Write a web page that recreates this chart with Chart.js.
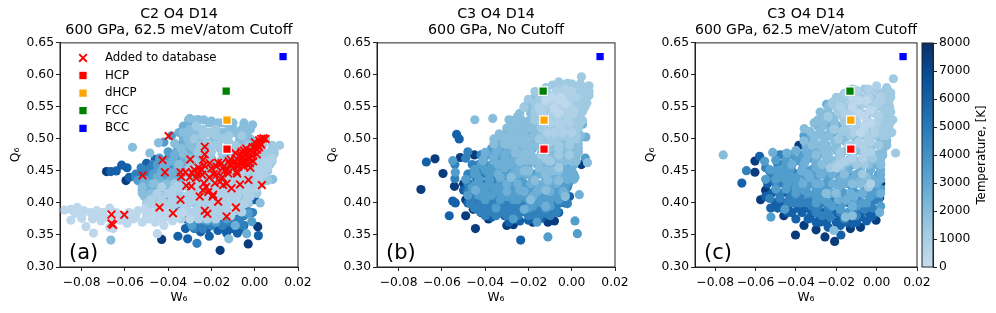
<!DOCTYPE html>
<html>
<head>
<meta charset="utf-8">
<title>Q6 vs W6</title>
<script src="https://cdn.jsdelivr.net/npm/chart.js@4/dist/chart.umd.min.js"></script>
<style>
  html, body { margin: 0; background: #fff; overflow: hidden; }
  #page { position: relative; width: 996px; height: 313px; }
  #page canvas { position: absolute; top: 0; }
</style>
</head>
<body>
<div id="page">
  <canvas id="panelA" style="left:0" width="320" height="313"></canvas>
  <canvas id="panelB" style="left:317px" width="320" height="313"></canvas>
  <canvas id="panelC" style="left:635px" width="300" height="313"></canvas>
  <canvas id="colorbar" style="left:915px" width="81" height="313"></canvas>
</div>
<script>
// ---------- axes ----------
var xTicks = [-0.08, -0.06, -0.04, -0.02, 0, 0.02];
var yTicks = [0.30, 0.35, 0.40, 0.45, 0.50, 0.55, 0.60, 0.65];
var cbTicks = [0, 1000, 2000, 3000, 4000, 5000, 6000, 7000, 8000];

// reference structures, same in every panel
var hcp = [[-0.0128, 0.484]];
var dhcp = [[-0.0128, 0.5295]];
var fcc = [[-0.0132, 0.5746]];
var bcc = [[0.0131, 0.6287]];

// ---------- panel (a), points grouped by temperature ----------
var aT7500 = [[-.043,.343],[-.016,.326],[-.003,.336],[.0014,.363],[-.0595,.435],[-.0685,.449]];
var aT6000 = [[-.0355,.348],[-.031,.344],[-.021,.348],[-.013,.353],[-.008,.353],[.0017,.349],[-.0665,.449],[-.064,.45],[-.0615,.459],[-.059,.455],[-.052,.447],[-.05,.462],[-.046,.468],[-.044,.457],[-.025,.355],[-.017,.357],[-.01,.36],[-.005,.395],[-.003,.4],[0,.405],[-.008,.39],[-.04,.41],[-.036,.39],[-.027,.37],
  [-.028,.365],[-.022,.365],[-.016,.365],[-.012,.365],[-.005,.365],[-.032,.375],[-.026,.375],[-.02,.375],[-.014,.375],[-.008,.375],[-.004,.39],[-.045,.405],[-.042,.405],[-.058,.44],[-.032,.36],[-.027,.36],[-.022,.36],[-.016,.36],[-.011,.36],[-.006,.36]];
var aT4700 = [[-.0267,.337],[-.0055,.365],[-.028,.36],[-.024,.36],[-.02,.365],[-.015,.365],[-.055,.44],[-.05,.44],[-.048,.435],[-.047,.45],[-.043,.44],[-.04,.465],[-.038,.46],[-.036,.475],[-.034,.49],[-.04,.42],[-.011,.37],[-.007,.375],[-.046,.425],[-.0525,.455],[-.042,.41],
  [-.03,.37],[-.025,.37],[-.018,.37],[-.013,.37],[-.008,.37],[-.028,.38],[-.02,.38],[-.012,.38],[-.005,.38],[-.052,.43],[-.044,.43],[-.04,.43],[-.05,.45],[-.042,.45],[-.047,.46],[-.036,.46],[-.055,.445],[-.05,.445],[-.045,.445],[-.048,.455],[-.043,.455],[-.001,.385],[-.003,.385]];
var aT3500 = [[-.003,.384],[-.0014,.371],[-.045,.445],[-.04,.445],[-.037,.45],[-.034,.47],[-.032,.48],[-.028,.49],[-.048,.43],[-.044,.425],[-.038,.43],[-.042,.495],[-.0385,.505],[-.032,.46],[-.029,.365],[-.018,.37],[-.005,.41],[-.037,.415],[-.022,.372],[-.013,.375],
  [-.054,.435],[-.049,.435],[-.042,.435],[-.036,.445],[-.047,.445],[-.045,.46],[-.044,.47],[-.04,.47],[-.04,.48],[-.036,.48],[-.036,.49],[-.045,.45],[-.04,.45]];
var aT2600 = [[-.0037,.352],[-.047,.415],[-.05,.42],[-.042,.46],[-.037,.475],[-.033,.5],[-.03,.505],[-.028,.52],[-.026,.53],[-.0305,.53],[-.035,.48],[-.045,.44],[-.04,.43],[-.035,.44],[-.031,.445],[-.028,.47],[-.025,.51],[-.009,.365],[-.024,.375],[-.019,.375],
  [-.052,.42],[-.044,.42],[-.047,.43],[-.036,.43],[-.043,.45],[-.036,.45],[-.03,.45],[-.038,.465],[-.033,.465],[-.03,.465],[-.036,.48],[-.03,.48],[-.033,.49],[-.027,.49],[-.035,.51],[-.033,.52],[-.03,.52],
  [-.041,.46],[-.036,.46],[-.03,.46],[-.039,.447],[-.033,.447],[-.051,.435],[-.044,.435],[-.039,.435],[-.034,.435],[-.049,.423],[-.045,.423],[-.04,.423]];
var aT1900 = [[-.0565,.487],[-.0445,.494],[-.0485,.478],[-.03,.532],[-.027,.53],[-.0235,.53],[-.02,.528],[-.017,.525],[-.013,.51],[-.01,.515],[-.004,.515],[-.001,.522],[-.0035,.505],[0,.495],[.002,.485],[-.006,.5],[.0035,.49],[.0085,.475],[.0083,.437],[.0025,.4],[-.033,.51],[-.03,.49],[-.027,.475],[-.024,.47],[-.035,.46],[-.032,.45],[-.036,.43],[-.012,.344],[-.0665,.342],[-.047,.43],[-.052,.425],[-.049,.41],
  [-.032,.44],[-.027,.44],[-.022,.44],[-.028,.44],[-.03,.455],[-.024,.455],[-.018,.455],[-.012,.455],[-.006,.455],[-.03,.47],[-.02,.47],[-.014,.47],[-.008,.47],[-.002,.47],[-.034,.485],[-.028,.485],[-.022,.485],[-.016,.485],[-.01,.485],[-.004,.485],[-.031,.5],[-.025,.5],[-.019,.5],[-.013,.5],[-.007,.5],[-.002,.5],[-.03,.515],[-.024,.515],[-.018,.515],[-.012,.515],[-.006,.515],[-.002,.515],[-.027,.525],[-.021,.525],[-.015,.525],[-.01,.525],[-.005,.525],[-.046,.43],[-.041,.43],[-.052,.415],[-.048,.415],
  [-.031,.51],[-.027,.51],[-.021,.51],[-.015,.51],[-.009,.51],[-.004,.51],[-.037,.493],[-.03,.493],[-.024,.493],[-.018,.493],[-.012,.493],[-.006,.493],[-.001,.493],[-.033,.477],[-.027,.477],[-.021,.477],[-.015,.477],[-.009,.477],[-.003,.477],[-.025,.46],[-.019,.46],[-.013,.46],[-.007,.46],[-.027,.447],[-.021,.447],[-.051,.41],[-.047,.41],[-.043,.41]];
var aT1300 = [[-.027,.52],[-.024,.515],[-.021,.51],[-.018,.515],[-.015,.5],[-.012,.495],[-.022,.495],[-.019,.49],[-.025,.49],[-.015,.48],[-.01,.48],[-.006,.485],[-.003,.49],[0,.48],[.004,.475],[.007,.48],[.0115,.49],[.006,.465],[.003,.455],[0,.445],[-.002,.44],[-.028,.5],[-.026,.46],[-.02,.46],[-.017,.45],[-.03,.455],[-.04,.4],[-.043,.41],[-.046,.41],[-.05,.4],[-.034,.41],[-.024,.445],[-.021,.47],[-.013,.465],[-.008,.47],[-.011,.452],
  [-.024,.45],[-.018,.45],[-.012,.45],[-.006,.45],[.002,.45],[.006,.45],[-.028,.465],[-.022,.465],[-.016,.465],[-.01,.465],[-.004,.465],[.002,.465],[.008,.465],[-.026,.48],[-.02,.48],[-.012,.48],[-.004,.48],[.002,.48],[.009,.48],[-.017,.49],[-.009,.49],[.003,.49],[.008,.49],[-.024,.505],[-.018,.505],[-.012,.505],[-.006,.505],[-.03,.44],[-.024,.44],[-.018,.44],[-.012,.44],[-.006,.44],[0,.44],[.005,.44],[-.037,.43],[-.03,.43],[-.025,.43],[-.019,.43],[-.013,.43],[-.007,.43],[-.001,.43],[.003,.43],[-.04,.415],[-.035,.415],[-.028,.415],[-.022,.415],[-.016,.415],[-.009,.415],[-.003,.415],[.001,.415],[-.045,.4],[-.034,.4],[-.028,.4],[-.022,.4],[-.015,.4],[-.008,.4],[-.003,.4],
  [0,.477],[.004,.477],[.009,.477],[-.002,.46],[.003,.46],[.007,.46],[-.015,.447],[-.009,.447],[-.003,.447],[.003,.447],[-.028,.435],[-.022,.435],[-.016,.435],[-.01,.435],[-.004,.435],[.002,.435],[.006,.435]];
var aT800 = [[-.05,.395],[-.045,.395],[-.04,.395],[-.036,.4],[-.032,.395],[-.03,.41],[-.026,.41],[-.022,.405],[-.02,.42],[-.016,.425],[-.012,.43],[-.008,.44],[-.004,.45],[0,.455],[.004,.465],[.008,.47],[.003,.495],[.005,.5],[-.012,.42],[-.018,.4],[-.026,.39],[-.03,.385],[-.005,.435],[-.001,.43],[-.016,.41],[-.007,.42],[-.034,.425],[-.038,.42],[-.045,.38],[-.02,.385],[-.013,.395],[-.018,.38],[-.01,.405],
  [-.048,.405],[-.043,.405],[-.038,.405],[-.028,.405],[-.024,.405],[-.014,.405],[-.009,.405],[-.004,.405],[-.045,.415],[-.04,.415],[-.03,.415],[-.024,.415],[-.018,.415],[-.012,.415],[-.004,.415],[-.043,.425],[-.036,.425],[-.031,.425],[-.026,.425],[-.02,.425],[-.014,.425],[-.008,.425],[-.002,.425],[-.031,.435],[-.025,.435],[-.018,.435],[-.012,.435],[-.004,.435],[.002,.435],[-.02,.445],[-.012,.445],[-.005,.445],[.001,.445],[.004,.445],[-.01,.455],[-.004,.455],[.003,.455],[.006,.455],[-.002,.465],[.002,.465],[.007,.465],[-.024,.39],[-.018,.39],[-.013,.39],[-.008,.39],[-.028,.38],[-.024,.38],[-.015,.38],[-.011,.38],[-.034,.375],[-.026,.375],[-.022,.375],[-.018,.375],
  [-.035,.423],[-.029,.423],[-.023,.423],[-.017,.423],[-.011,.423],[-.005,.423],[.001,.423],[-.038,.41],[-.032,.41],[-.026,.41],[-.02,.41],[-.014,.41],[-.008,.41],[-.002,.41],[-.048,.398],[-.042,.398],[-.037,.398],[-.031,.398],[-.025,.398],[-.02,.398],[-.014,.398],[-.009,.398],[-.005,.398],[-.042,.386],[-.038,.386],[-.034,.386],[-.028,.386],[-.022,.386],[-.016,.386],[-.012,.386],[-.006,.386]];
var aT300 = [[-.088,.389],[-.085,.39],[-.082,.393],[-.079,.388],[-.076,.385],[-.073,.388],[-.07,.385],[-.067,.392],[-.064,.385],[-.061,.38],[-.058,.385],[-.055,.38],[-.085,.373],[-.08,.376],[-.078,.363],[-.075,.375],[-.0745,.353],[-.071,.372],[-.067,.362],[-.0655,.36],[-.062,.373],[-.059,.368],[-.056,.375],[-.052,.37],[-.049,.375],[-.046,.37],[-.0425,.375],[-.045,.352],[-.048,.385],[-.044,.385],[-.04,.385],[-.036,.38],[-.051,.39],[-.03,.375],[-.033,.385],[-.05,.38],
  [-.083,.384],[-.08,.382],[-.074,.38],[-.07,.378],[-.067,.376],[-.064,.375],[-.058,.377],[-.054,.388],[-.042,.365],[-.038,.372],[-.05,.378],[-.045,.378],[-.04,.378],[-.036,.378]];
var added = [[-.0398,.5045],[-.0426,.467],[-.0415,.448],[-.0518,.443],[-.0298,.468],[-.0231,.488],[-.0231,.476],[-.0343,.448],[-.034,.441],[-.032,.448],[-.029,.4475],[-.0316,.427],[-.0293,.426],[-.0254,.449],[-.027,.439],[-.0243,.444],[-.0234,.459],[-.0239,.467],[-.0208,.462],[-.02,.454],[-.0177,.457],[-.0153,.462],[-.0177,.444],[-.0161,.433],[-.0184,.431],[-.0146,.428],[-.0122,.446],[-.0107,.423],[-.0068,.429],[-.0029,.436],[.0033,.428],[-.0081,.446],[-.0099,.462],[-.0076,.457],[-.0343,.405],[-.044,.393],[-.0378,.384],[-.0234,.431],[-.0239,.42],[-.0254,.41],[-.0215,.417],[-.0192,.413],[-.0169,.402],[-.0231,.388],[-.0219,.383],[-.013,.379],[-.0087,.393],[-.0662,.382],[-.0662,.368],[-.0655,.366],[-.0603,.3815],[.004,.501],[.0025,.494],[0,.488],[-.001,.48],[-.004,.475],[-.006,.47],[-.0007,.465],[-.002,.455],[-.0045,.463],[-.0076,.46],[-.0084,.449],[-.0115,.46],[-.0146,.455],[.005,.5],[.003,.5],[.0015,.49],[-.001,.487],[-.002,.47],[-.003,.478],[-.005,.482],[-.006,.48],[-.007,.465],[-.004,.468],[-.009,.465],[-.0022,.462],[-.0125,.452],[.001,.483],[-.0265,.445],[-.0245,.452],[-.0195,.41],[-.0225,.425],[-.015,.44],[-.013,.43],[-.0108,.46],[-.0062,.475],[-.003,.459],
  [-.008,.468],[-.006,.463],[-.005,.457],[-.003,.47],[-.001,.473],[.001,.476],[.002,.487],[.003,.491],[-.002,.482],[-.004,.485],[-.007,.473],[-.01,.455],[-.012,.465],[-.014,.45],[-.017,.463],[-.019,.445],[-.028,.452],[-.03,.44],[-.026,.455],[-.021,.44],[0,.495],[.002,.498],[-.009,.478],[-.011,.468]];

// ---------- panel (b) ----------
var bT7500 = [[-.0697,.421],[-.0632,.469],[-.0595,.446],[-.0445,.36],[-.049,.38],[-.0542,.426],[-.0515,.471],[-.045,.475],[-.05,.43],[-.047,.41],[-.0455,.39],[-.042,.385],[-.0385,.375],[-.03,.365],[-.027,.366],[-.018,.37],[-.011,.37],[-.008,.372],[.0045,.46],[-.049,.405],[-.044,.44]];
var bT6000 = [[-.0672,.464],[-.0532,.507],[-.052,.5],[-.0566,.38],[-.055,.403],[-.0538,.4],[-.0236,.342],[-.05,.42],[-.048,.4],[-.046,.425],[-.043,.403],[-.041,.39],[-.037,.378],[-.034,.385],[-.029,.37],[-.024,.372],[-.02,.373],[-.014,.376],[-.01,.383],[-.006,.385],[-.003,.4],[-.047,.445],[-.043,.45],[-.001,.41],[-.036,.395],[-.031,.38],[-.016,.385]];
var bT4700 = [[-.047,.43],[-.044,.415],[-.041,.43],[-.04,.405],[-.038,.42],[-.035,.405],[-.034,.39],[-.037,.44],[-.043,.455],[-.046,.46],[-.03,.385],[-.027,.38],[-.024,.385],[-.02,.383],[-.017,.38],[-.013,.385],[-.031,.4],[-.028,.395],[-.022,.395],[-.007,.4],[-.004,.415],[-.002,.425],[-.042,.475],[-.049,.47],[-.054,.46],[-.054,.438],[-.0015,.43],[-.048,.48],
  [-.04,.38],[-.035,.38],[-.03,.38],[-.025,.38],[-.02,.38],[-.015,.38],[-.01,.38],[-.045,.392],[-.04,.392],[-.03,.392],[-.025,.392],[-.02,.392],[-.015,.392],[-.008,.392],[-.046,.405],[-.036,.405],[-.03,.405],[-.005,.405],[-.048,.418],[-.042,.418],[-.035,.418],[-.048,.43],[-.04,.43],[-.036,.43],[-.048,.445],[-.04,.445],[-.043,.46],[-.04,.46],
  [-.042,.386],[-.037,.386],[-.032,.386],[-.027,.386],[-.022,.386],[-.017,.386],[-.012,.386],[-.007,.386],[-.047,.399],[-.042,.399],[-.037,.399],[-.032,.399],[-.027,.399],[-.022,.399],[-.017,.399],[-.012,.399],[-.006,.399],[-.002,.399]];
var bT3500 = [[-.045,.445],[-.037,.46],[-.034,.45],[-.033,.43],[-.03,.44],[-.028,.42],[-.03,.41],[-.025,.405],[-.022,.41],[-.018,.395],[-.014,.4],[-.01,.395],[-.006,.41],[-.003,.435],[-.038,.48],[-.036,.47],[-.032,.47],[-.027,.455],[-.024,.435],[-.02,.425],[-.016,.415],[-.012,.41],[-.008,.42],[-.027,.375],[-.016,.37],[.0015,.372],[-.011,.347],[.0026,.352],[.0063,.47],[-.043,.43],[-.039,.45],[-.055,.466],[-.0538,.448],[-.035,.49],
  [-.035,.392],[-.02,.392],[-.012,.392],[-.04,.405],[-.033,.405],[-.027,.405],[-.02,.405],[-.015,.405],[-.01,.405],[-.006,.405],[-.04,.418],[-.034,.418],[-.029,.418],[-.024,.418],[-.018,.418],[-.012,.418],[-.006,.418],[-.003,.418],[-.044,.43],[-.038,.43],[-.032,.43],[-.027,.43],[-.022,.43],[-.016,.43],[-.01,.43],[-.005,.43],[-.002,.43],[-.044,.445],[-.038,.445],[-.033,.445],[-.028,.445],[-.023,.445],[-.018,.445],[-.013,.445],[-.007,.445],[-.002,.445],[-.042,.46],[-.036,.46],[-.03,.46],[-.025,.46],[-.02,.46],[-.014,.46],[-.008,.46],[-.003,.46],[.001,.46],[-.04,.473],[-.034,.473],[-.029,.473],[-.024,.473],[-.037,.485],[-.032,.485],
  [-.048,.412],[-.043,.412],[-.037,.412],[-.032,.412],[-.027,.412],[-.021,.412],[-.015,.412],[-.009,.412],[-.003,.412],[-.046,.424],[-.041,.424],[-.036,.424],[-.031,.424],[-.025,.424],[-.019,.424],[-.013,.424],[-.008,.424],[-.003,.424],[-.049,.437],[-.043,.437],[-.038,.437],[-.033,.437],[-.028,.437],[-.023,.437],[-.045,.452],[-.04,.452],[-.035,.452],[-.03,.452]];
var bT2600 = [[-.033,.495],[-.03,.5],[-.029,.485],[-.026,.475],[-.023,.46],[-.021,.445],[-.018,.435],[-.015,.425],[-.011,.43],[-.007,.435],[-.005,.45],[-.002,.45],[.001,.445],[-.028,.465],[-.031,.455],[-.025,.445],[.0035,.413],[.0015,.44],[.0065,.503],[-.041,.468],[-.033,.44],[-.024,.42],[-.018,.41],[-.022,.39],[-.012,.395],[-.0445,.42],[-.029,.51],
  [-.03,.418],[-.022,.418],[-.016,.418],[-.01,.418],[-.004,.418],[-.03,.43],[-.025,.43],[-.019,.43],[-.013,.43],[-.007,.43],[-.034,.445],[-.027,.445],[-.021,.445],[-.015,.445],[-.009,.445],[-.004,.445],[-.034,.46],[-.028,.46],[-.022,.46],[-.016,.46],[-.01,.46],[-.004,.46],[.001,.46],[-.036,.473],[-.031,.473],[-.026,.473],[-.02,.473],[-.014,.473],[-.008,.473],[-.002,.473],[.002,.473],[-.034,.485],[-.029,.485],[-.024,.485],[-.018,.485],[-.012,.485],[-.006,.485],[-.001,.485],[.003,.485],[-.033,.498],[-.028,.498],[-.022,.498],[-.017,.498],[-.011,.498],[-.006,.498],[0,.498],[.003,.498],[-.03,.51],[-.025,.51],[-.02,.51],[-.014,.51],[-.008,.51],[-.002,.51],[.003,.51],[-.028,.523],[-.023,.523],[-.018,.523],[.003,.523],[.005,.523],
  [-.018,.437],[-.012,.437],[-.007,.437],[-.002,.437],[.001,.437],[-.025,.452],[-.02,.452],[-.015,.452],[-.01,.452],[-.005,.452],[0,.452],[-.041,.466],[-.036,.466],[-.031,.466],[-.026,.466],[-.04,.479],[-.035,.479],[-.03,.479]];
var bT1900 = [[-.0448,.53],[-.0365,.532],[-.0335,.508],[-.036,.5],[-.029,.53],[-.025,.535],[-.027,.52],[-.024,.51],[-.022,.5],[-.026,.495],[-.02,.485],[-.023,.475],[-.017,.47],[-.015,.455],[-.012,.445],[-.009,.45],[-.006,.465],[-.003,.475],[0,.465],[.003,.48],[.0073,.463],[-.022,.55],[-.02,.56],[-.017,.565],[-.013,.555],[-.018,.54],[-.019,.525],[-.016,.51],[-.013,.49],[-.009,.475],[-.02,.45],[-.012,.42],[-.003,.41],[-.019,.405],[-.028,.44],[.004,.505],[.002,.51],[0,.495],[-.002,.485],
  [-.017,.435],[-.011,.435],[-.006,.435],[-.022,.45],[-.012,.45],[-.006,.45],[-.024,.465],[-.018,.465],[-.012,.465],[-.005,.465],[0,.465],[.002,.465],[-.026,.478],[-.02,.478],[-.014,.478],[-.008,.478],[-.003,.478],[.002,.478],[-.028,.49],[-.022,.49],[-.016,.49],[-.01,.49],[-.004,.49],[.001,.49],[-.03,.503],[-.025,.503],[-.018,.503],[-.012,.503],[-.006,.503],[0,.503],[-.028,.515],[-.022,.515],[-.017,.515],[-.011,.515],[-.005,.515],[.001,.515],[-.026,.528],[-.02,.528],[-.014,.528],[-.008,.528],[-.002,.528],[.003,.528],[-.024,.54],[-.019,.54],[-.013,.54],[.004,.54],[-.02,.552],[.005,.552],[.006,.552],[-.016,.565],[.006,.565],
  [-.021,.466],[-.015,.466],[-.009,.466],[-.003,.466],[.002,.466],[-.025,.479],[-.019,.479],[-.013,.479],[-.007,.479],[-.001,.479],[.003,.479],[-.036,.492],[-.031,.492],[-.026,.492],[-.02,.492],[-.014,.492],[-.008,.492],[-.002,.492],[.003,.492],[-.033,.504],[-.028,.504],[-.022,.504],[-.016,.504],[-.01,.504],[-.004,.504],[.002,.504],[-.03,.517],[-.025,.517],[-.019,.517],[-.028,.529],[-.023,.529]];
var bT1300 = [[-.017,.535],[-.014,.52],[-.015,.5],[-.012,.51],[-.01,.495],[-.012,.47],[-.008,.5],[-.006,.485],[-.004,.505],[-.001,.515],[.002,.53],[.004,.545],[.006,.56],[.008,.583],[.0045,.597],[.002,.58],[-.002,.587],[-.006,.589],[-.009,.584],[.0035,.575],[.005,.56],[.003,.555],[.004,.525],[.002,.5],[-.001,.5],[-.01,.465],[-.006,.455],[-.001,.475],
  [-.011,.505],[-.005,.505],[-.001,.505],[.002,.505],[-.014,.518],[-.009,.518],[-.004,.518],[.001,.518],[-.016,.53],[-.011,.53],[-.005,.53],[0,.53],[.004,.53],[-.017,.543],[-.012,.543],[-.007,.543],[-.002,.543],[.002,.543],[.005,.543],[-.017,.556],[-.012,.556],[.001,.556],[.004,.556],[.007,.556],[-.015,.568],[-.01,.568],[-.004,.568],[.001,.568],[.005,.568],[.008,.568],[-.012,.58],[-.007,.58],[-.002,.58],[.003,.58],[.007,.58],[-.012,.49],[-.006,.49],[-.001,.49],[-.014,.475],[-.006,.475],
  [-.014,.517],[-.008,.517],[-.002,.517],[.003,.517],[-.017,.529],[-.011,.529],[-.005,.529],[.001,.529],[.005,.529],[-.022,.549],[-.016,.549],[-.01,.549],[-.005,.549],[0,.549],[.004,.549],[.006,.549],[-.02,.562],[-.015,.562],[-.008,.562],[-.002,.562],[.003,.562],[.006,.562],[-.017,.574],[-.012,.574],[-.006,.574],[0,.574],[.005,.574],[.008,.574],[-.005,.586],[0,.586],[.004,.586]];
var bT800 = [[-.015,.55],[-.013,.535],[-.01,.525],[-.008,.51],[-.005,.52],[-.002,.53],[.001,.545],[.002,.565],[0,.575],[-.003,.578],[-.007,.575],[-.011,.57],[-.01,.555],[-.007,.535],[-.004,.545],[-.001,.56],
  [-.014,.54],[-.009,.54],[-.003,.54],[.001,.54],[-.012,.525],[-.006,.525],[-.001,.525],[-.011,.51],[-.004,.51],[0,.51],[-.013,.55],[-.006,.55],[-.001,.55],[-.012,.565],[-.003,.565],[.001,.565]];
var bT300 = [[-.012,.56],[-.009,.565],[-.006,.56],[-.008,.548],[-.005,.565],[-.003,.555],[-.006,.54]];

// ---------- panel (c) ----------
var cT7500 = [[-.0603,.4655],[-.0603,.448],[-.0402,.35],[-.0208,.34],[-.0003,.373],[-.0575,.405],[-.055,.42],[-.05,.4],[-.046,.38],[-.036,.365],[-.03,.358],[-.0256,.347],[-.013,.36],[-.008,.362],[-.0385,.49],[.0015,.408],[.002,.43]];
var cT6000 = [[-.0668,.431],[-.058,.473],[-.0525,.392],[-.0177,.35],[-.055,.41],[-.05,.42],[-.047,.395],[-.044,.385],[-.04,.375],[-.034,.375],[-.028,.37],[-.024,.362],[-.018,.365],[-.012,.368],[-.005,.372],[-.002,.38],[-.053,.45],[-.048,.405],[-.043,.41],[-.037,.39],[-.031,.385],[-.02,.385],[.001,.44],[-.035,.485],[-.036,.47],
  [-.03,.37],[-.025,.37],[-.02,.37],[-.015,.37],[-.01,.37],[-.042,.385],[-.037,.385],[-.032,.385],[-.026,.385],[-.014,.385],[-.008,.385],[-.004,.385],[-.05,.4],[-.045,.4],[-.04,.4],[-.034,.4],[-.028,.4],[-.052,.415],[-.047,.415],[-.042,.415],[-.054,.43],[-.049,.43],[-.044,.43],
  [-.033,.378],[-.028,.378],[-.023,.378],[-.018,.378],[-.013,.378],[-.008,.378],[-.003,.378],[-.049,.392],[-.044,.392],[-.039,.392],[-.034,.392],[-.029,.392]];
var cT4700 = [[-.0645,.4505],[-.055,.455],[-.049,.46],[-.046,.475],[-.043,.42],[-.041,.4],[-.035,.4],[-.032,.395],[-.027,.38],[-.023,.378],[-.016,.375],[-.01,.38],[-.006,.39],[-.052,.44],[-.038,.41],[-.029,.395],[-.042,.45],[-.046,.43],[0,.405],[-.033,.43],[-.048,.475],[-.004,.4],
  [-.03,.385],[-.024,.385],[-.018,.385],[-.012,.385],[-.044,.4],[-.038,.4],[-.032,.4],[-.026,.4],[-.02,.4],[-.014,.4],[-.008,.4],[-.003,.4],[-.048,.415],[-.042,.415],[-.036,.415],[-.03,.415],[-.006,.415],[-.002,.415],[-.05,.43],[-.045,.43],[-.039,.43],[-.033,.43],[-.052,.445],[-.046,.445],[-.04,.445],[-.047,.46],[-.042,.46],[-.045,.46],
  [-.024,.392],[-.018,.392],[-.012,.392],[-.007,.392],[-.002,.392],[-.053,.407],[-.048,.407],[-.043,.407],[-.038,.407],[-.033,.407],[-.027,.407],[-.021,.407],[-.015,.407],[-.009,.407],[-.003,.407],[.001,.407]];
var cT3500 = [[-.0524,.378],[-.0555,.465],[-.05,.45],[-.045,.46],[-.042,.475],[-.038,.465],[-.04,.43],[-.036,.42],[-.034,.45],[-.03,.41],[-.026,.405],[-.022,.395],[-.018,.39],[-.014,.385],[-.01,.395],[-.007,.4],[-.003,.41],[-.0465,.45],[-.0455,.39],[-.0415,.44],[-.025,.43],[-.028,.42],[-.033,.47],[-.036,.505],[-.033,.5],[.002,.395],[-.048,.44],
  [-.03,.4],[-.024,.4],[-.017,.4],[-.011,.4],[-.005,.4],[-.04,.415],[-.034,.415],[-.028,.415],[-.022,.415],[-.016,.415],[-.01,.415],[-.004,.415],[0,.415],[-.044,.43],[-.038,.43],[-.032,.43],[-.026,.43],[-.02,.43],[-.014,.43],[-.008,.43],[-.002,.43],[-.044,.445],[-.038,.445],[-.032,.445],[-.026,.445],[-.02,.445],[-.014,.445],[.001,.445],[-.042,.46],[-.036,.46],[-.03,.46],[-.024,.46],[-.037,.475],[-.032,.475],
  [-.05,.422],[-.045,.422],[-.04,.422],[-.035,.422],[-.03,.422],[-.024,.422],[-.018,.422],[-.012,.422],[-.006,.422],[-.001,.422],[.002,.422],[-.055,.437],[-.05,.437],[-.045,.437],[-.04,.437],[-.035,.437],[-.03,.437],[-.024,.437],[-.053,.452],[-.048,.452],[-.043,.452],[-.037,.452],[-.032,.452],[-.05,.467],[-.045,.467],[-.04,.467]];
var cT2600 = [[-.0248,.554],[-.0515,.479],[-.0445,.478],[-.042,.46],[-.037,.45],[-.033,.44],[-.03,.455],[-.027,.445],[-.023,.415],[-.019,.405],[-.015,.405],[-.011,.41],[-.007,.415],[-.004,.425],[-.03,.485],[-.034,.49],[-.03,.43],[.0015,.385],[-.012,.395],[-.019,.425],[-.016,.435],[-.0225,.45],[.002,.415],[-.0365,.43],
  [-.025,.415],[-.013,.415],[-.007,.415],[-.028,.43],[-.022,.43],[-.016,.43],[-.01,.43],[-.004,.43],[0,.43],[-.034,.445],[-.028,.445],[-.022,.445],[-.016,.445],[-.01,.445],[-.004,.445],[.002,.445],[-.036,.46],[-.03,.46],[-.024,.46],[-.018,.46],[-.012,.46],[-.006,.46],[0,.46],[.002,.46],[-.034,.475],[-.029,.475],[-.024,.475],[-.018,.475],[-.012,.475],[-.006,.475],[0,.475],[.003,.475],[-.035,.49],[-.03,.49],[-.025,.49],[-.02,.49],[-.014,.49],[-.008,.49],[-.002,.49],[.004,.49],[-.032,.505],[-.026,.505],[-.02,.505],[-.014,.505],[-.008,.505],[-.002,.505],[.004,.505],[-.029,.52],[-.023,.52],[-.018,.52],
  [-.018,.437],[-.012,.437],[-.007,.437],[-.002,.437],[.002,.437],[-.026,.452],[-.02,.452],[-.014,.452],[-.008,.452],[-.003,.452],[.002,.452],[-.035,.467],[-.03,.467],[-.025,.467],[-.04,.482],[-.035,.482],[-.031,.482]];
var cT1900 = [[-.076,.475],[-.0359,.516],[-.031,.525],[-.029,.53],[-.027,.52],[-.031,.505],[-.026,.5],[-.028,.49],[-.024,.485],[-.025,.47],[-.022,.465],[-.019,.455],[-.016,.445],[-.012,.43],[-.008,.43],[-.005,.44],[-.027,.46],[.0009,.47],[.005,.49],[-.02,.415],[-.025,.415],[-.012,.38],[-.022,.535],[-.0212,.357],[-.0155,.378],
  [-.022,.46],[-.016,.46],[-.01,.46],[-.004,.46],[.002,.46],[-.03,.475],[-.024,.475],[-.018,.475],[-.012,.475],[-.006,.475],[-.001,.475],[.003,.475],[-.032,.49],[-.026,.49],[-.02,.49],[-.014,.49],[-.008,.49],[-.002,.49],[.003,.49],[-.03,.505],[-.024,.505],[-.018,.505],[-.012,.505],[-.006,.505],[0,.505],[.005,.505],[-.027,.52],[-.021,.52],[-.015,.52],[-.009,.52],[-.003,.52],[.003,.52],[.006,.52],[-.027,.535],[-.021,.535],[-.015,.535],[-.024,.55],[-.018,.55],[.006,.55],
  [-.02,.467],[-.014,.467],[-.008,.467],[-.002,.467],[.002,.467],[-.026,.482],[-.02,.482],[-.015,.482],[-.009,.482],[-.003,.482],[.003,.482],[-.036,.497],[-.031,.497],[-.026,.497],[-.021,.497],[-.016,.497],[-.01,.497],[-.004,.497],[.002,.497],[.005,.497],[-.033,.512],[-.028,.512],[-.023,.512],[-.03,.527],[-.026,.527],[-.021,.527],[-.028,.542],[-.024,.542]];
var cT1300 = [[.0094,.478],[.0083,.594],[.007,.572],[.0065,.55],[.008,.53],[.0075,.51],[.0045,.505],[.004,.53],[.003,.55],[.005,.58],[-.019,.5],[-.021,.515],[-.024,.535],[-.022,.555],[-.018,.565],[-.014,.51],[-.011,.49],[-.018,.48],[-.014,.465],[-.01,.46],[-.006,.46],[-.002,.47],[.001,.49],[.002,.51],[-.02,.46],[-.023,.455],[-.007,.445],[-.004,.425],
  [-.013,.505],[-.007,.505],[-.001,.505],[.003,.505],[-.015,.52],[-.009,.52],[-.003,.52],[.002,.52],[.006,.52],[-.017,.535],[-.011,.535],[-.005,.535],[.001,.535],[.005,.535],[-.02,.55],[-.015,.55],[-.009,.55],[-.003,.55],[.002,.55],[.006,.55],[-.02,.565],[-.014,.565],[-.008,.565],[-.002,.565],[.003,.565],[.007,.565],[-.012,.578],[-.006,.578],[0,.578],[.005,.578],[-.012,.49],[-.006,.49],[.001,.49],[-.018,.47],[-.012,.47],[-.006,.47],
  [-.017,.512],[-.011,.512],[-.005,.512],[.001,.512],[.005,.512],[-.016,.527],[-.01,.527],[-.004,.527],[.002,.527],[.007,.527],[-.019,.542],[-.014,.542],[-.008,.542],[-.002,.542],[.004,.542],[.007,.542],[-.022,.557],[-.017,.557],[-.011,.557],[-.005,.557],[.001,.557],[.006,.557],[-.016,.571],[-.01,.571],[-.004,.571],[.002,.571],[.006,.571]];
var cT800 = [[-.016,.54],[-.013,.525],[-.011,.51],[-.007,.49],[-.004,.5],[-.001,.515],[.001,.535],[.002,.56],[0,.583],[-.004,.578],[-.01,.576],[-.015,.57],[-.018,.55],[-.016,.465],[-.02,.455],[-.018,.46],[-.012,.47],[-.007,.47],[-.003,.48],[-.014,.49],[-.003,.43],
  [-.013,.54],[-.007,.54],[-.001,.54],[-.01,.525],[-.005,.525],[0,.525],[-.012,.555],[-.006,.555],[0,.555],[-.01,.565],[-.004,.565],[.002,.565],[-.006,.51],[-.001,.51],[-.009,.495],[-.003,.495],[-.012,.48],[-.006,.48]];
var cT300 = [[-.012,.55],[-.009,.56],[-.005,.56],[-.009,.54],[-.006,.535],[-.003,.545],[-.012,.565],[-.006,.52],[-.008,.51],[-.003,.525]];

// ---------- colour ----------
var BLUES = ["#c6dbef", "#9ecae1", "#6baed6", "#4292c6", "#2171b5", "#08519c", "#08306b"];
var T_MAX = 8000;

function rgb(hex) {
  return [1, 3, 5].map(function (i) { return parseInt(hex.substr(i, 2), 16); });
}
function tempColor(t) {
  var f = t / T_MAX * (BLUES.length - 1), i = Math.min(Math.floor(f), BLUES.length - 2), k = f - i;
  var a = rgb(BLUES[i]), b = rgb(BLUES[i + 1]);
  return "rgb(" + a.map(function (v, n) { return Math.round(v + (b[n] - v) * k); }).join(",") + ")";
}

// ---------- helpers ----------
function minusSign(v) { return String(v).replace("-", "\u2212"); }

function band(t, pts) {
  return { data: pts, pointStyle: "circle", pointRadius: 4.6, pointBackgroundColor: tempColor(t), pointBorderWidth: 0 };
}
function square(label, color, pts) {
  return { label: label, data: pts, pointStyle: "rect", pointRadius: 6, pointBackgroundColor: color,
           pointBorderColor: "#fff", pointBorderWidth: 1.2 };
}
function structures() {
  return [square("HCP", "#ff0000", hcp), square("dHCP", "#ffa500", dhcp),
          square("FCC", "#008000", fcc), square("BCC", "#0000ff", bcc)];
}

// frame on all four sides, panel letter, legend
var decor = {
  id: "decor",
  afterDatasetsDraw: function (chart, args, opts) {
    var c = chart.ctx, a = chart.chartArea;
    c.save();
    c.strokeStyle = "#222"; c.lineWidth = 1;
    c.strokeRect(a.left, a.top, a.right - a.left, a.bottom - a.top);
    c.fillStyle = "#000"; c.textBaseline = "middle";
    if (opts.tag) {
      c.font = "21px 'DejaVu Sans'";
      c.fillText(opts.tag, a.left + 9, a.bottom - 13);
    }
    if (opts.legend) {
      c.font = "11.8px 'DejaVu Sans'";
      opts.legend.forEach(function (name, i) {
        var ds = chart.data.datasets.filter(function (d) { return d.label === name; })[0];
        var y = a.top + 15 + i * 17.6;
        c.strokeStyle = ds.pointBorderColor; c.fillStyle = ds.pointBackgroundColor; c.lineWidth = ds.pointBorderWidth;
        Chart.helpers.drawPoint(c, { pointStyle: ds.pointStyle, radius: ds.pointRadius, borderWidth: ds.pointBorderWidth }, a.left + 23, y);
        c.fillStyle = "#000";
        c.fillText(name, a.left + 45, y);
      });
    }
    if (opts.sideTitle) {
      c.translate(a.right + 49, (a.top + a.bottom) / 2);
      c.rotate(-Math.PI / 2);
      c.textAlign = "center";
      c.font = "11.8px 'DejaVu Sans'";
      c.fillText(opts.sideTitle, 0, 0);
    }
    c.restore();
  }
};

function axisFont() { return { family: "'DejaVu Sans'", size: 12.3 }; }

function scatterPanel(id, title, datasets, rightPad, tag, legend) {
  return new Chart(document.getElementById(id), {
    type: "scatter",
    data: { datasets: datasets },
    plugins: [decor],
    options: {
      responsive: false, animation: false, events: [],
      layout: { padding: { left: 0, right: rightPad, top: 0, bottom: 0 } },
      plugins: {
        legend: { display: false }, tooltip: { enabled: false },
        title: { display: true, text: title, fullSize: false, color: "#000",
                 font: { family: "'DejaVu Sans'", size: 14.3, weight: "normal", lineHeight: 1.15 },
                 padding: { top: 6, bottom: 4 } },
        decor: { tag: tag, legend: legend }
      },
      scales: {
        x: {
          type: "linear", min: -0.09, max: 0.02,
          afterBuildTicks: function (s) { s.ticks = xTicks.map(function (v) { return { value: v }; }); },
          afterFit: function (s) { s.height = 46; },
          grid: { drawOnChartArea: false, color: "#222", tickLength: 4 },
          border: { color: "#222" },
          title: { display: true, text: "W\u2086", color: "#000", font: axisFont(), padding: { top: 0, bottom: 8 } },
          ticks: { color: "#000", font: axisFont(), padding: 4, maxRotation: 0, autoSkip: false,
                   callback: function (v) { return minusSign(v.toFixed(2)); } }
        },
        y: {
          type: "linear", min: 0.30, max: 0.65,
          afterBuildTicks: function (s) { s.ticks = yTicks.map(function (v) { return { value: v }; }); },
          afterFit: function (s) { s.width = 60; },
          grid: { drawOnChartArea: false, color: "#222", tickLength: 4 },
          border: { color: "#222" },
          title: { display: true, text: "Q\u2086", color: "#000", font: axisFont(), padding: { top: 8, bottom: 0 } },
          ticks: { color: "#000", font: axisFont(), padding: 2, autoSkip: false,
                   callback: function (v) { return v.toFixed(2); } }
        }
      }
    }
  });
}

// ---------- build (first dataset ends up on top) ----------
var crosses = { label: "Added to database", data: added, pointStyle: "crossRot", pointRadius: 5.4,
                pointBackgroundColor: "#ff0000", pointBorderColor: "#ff0000", pointBorderWidth: 1.9 };

scatterPanel("panelA", ["C2 O4 D14", "600 GPa, 62.5 meV/atom Cutoff"],
  structures().concat([crosses,
    band(300, aT300), band(800, aT800), band(1300, aT1300), band(1900, aT1900), band(2600, aT2600),
    band(3500, aT3500), band(4700, aT4700), band(6000, aT6000), band(7500, aT7500)]),
  22, "(a)", ["Added to database", "HCP", "dHCP", "FCC", "BCC"]);

scatterPanel("panelB", ["C3 O4 D14", "600 GPa, No Cutoff"],
  structures().concat([
    band(300, bT300), band(800, bT800), band(1300, bT1300), band(1900, bT1900), band(2600, bT2600),
    band(3500, bT3500), band(4700, bT4700), band(6000, bT6000), band(7500, bT7500)]),
  22, "(b)");

scatterPanel("panelC", ["C3 O4 D14", "600 GPa, 62.5 meV/atom Cutoff"],
  structures().concat([
    band(300, cT300), band(800, cT800), band(1300, cT1300), band(1900, cT1900), band(2600, cT2600),
    band(3500, cT3500), band(4700, cT4700), band(6000, cT6000), band(7500, cT7500)]),
  18, "(c)");

// colorbar: one floating bar over the whole temperature range
new Chart(document.getElementById("colorbar"), {
  type: "bar",
  data: {
    labels: ["T"],
    datasets: [{
      data: [[0, T_MAX]], barPercentage: 1, categoryPercentage: 1,
      backgroundColor: function (ctx) {
        var a = ctx.chart.chartArea;
        if (!a) return BLUES[3];
        var g = ctx.chart.ctx.createLinearGradient(0, a.bottom, 0, a.top);
        BLUES.forEach(function (col, i) { g.addColorStop(i / (BLUES.length - 1), col); });
        return g;
      }
    }]
  },
  plugins: [decor],
  options: {
    responsive: false, animation: false, events: [],
    layout: { padding: { left: 7, right: 0, top: 43, bottom: 46 } },
    plugins: { legend: { display: false }, tooltip: { enabled: false },
               decor: { sideTitle: "Temperature, [K]" } },
    scales: {
      x: { display: false },
      y: {
        position: "right", min: 0, max: T_MAX,
        afterBuildTicks: function (s) { s.ticks = cbTicks.map(function (v) { return { value: v }; }); },
        afterFit: function (s) { s.width = 63; },
        grid: { drawOnChartArea: false, color: "#222", tickLength: 4 },
        border: { color: "#222" },
        ticks: { color: "#000", font: axisFont(), padding: 2, autoSkip: false,
                 callback: function (v) { return String(v); } }
      }
    }
  }
});
</script>
</body>
</html>
